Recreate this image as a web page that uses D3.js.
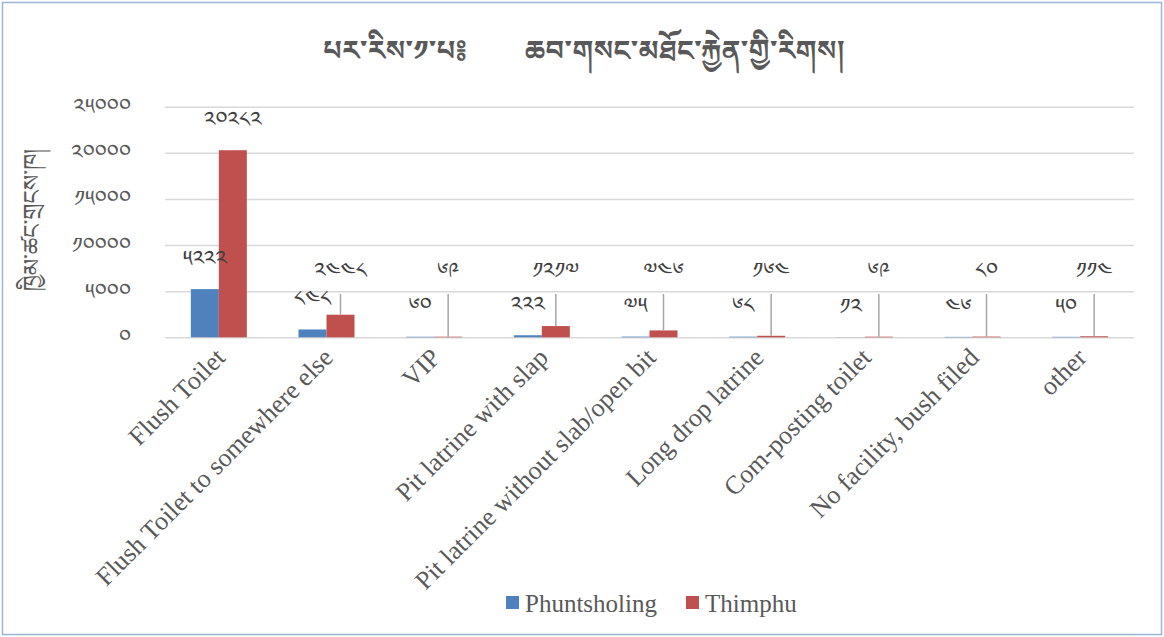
<!DOCTYPE html>
<html>
<head>
<meta charset="utf-8">
<script src="https://cdn.jsdelivr.net/npm/d3@7"></script>
<style>
  html, body { margin: 0; padding: 0; background: #ffffff; }
  svg { display: block; }
</style>
</head>
<body>
<svg id="chart" width="1164" height="637"></svg>
<script>
// ---- data ----
const categories = [
  "Flush Toilet",
  "Flush Toilet to somewhere else",
  "VIP",
  "Pit latrine with slap",
  "Pit latrine without slab/open bit",
  "Long drop latrine",
  "Com-posting toilet",
  "No facility, bush filed",
  "other"
];
const seriesNames = ["Phuntsholing", "Thimphu"];
const phuntsholing = [5222, 848, 60, 222, 75, 68, 12, 46, 50];
const thimphu = [20282, 2448, 69, 1217, 746, 164, 69, 80, 114];
const yTicks = [0, 5000, 10000, 15000, 20000, 25000];
const titleText = "པར་རིས་༡་པ༔        ཆབ་གསང་མཐོང་རྐྱེན་གྱི་རིགས།";
const yTitleText = "ཁྱིམ་ཚང་གྲངས་ཁ།";

// ---- styles ----
const colors = { Phuntsholing: "#4f81bd", Thimphu: "#c0504d" };
const tibFont = "'Noto Sans Tibetan','Noto Serif Tibetan','Microsoft Himalaya','Jomolhari','DejaVu Sans',sans-serif";
const serifFont = "'Liberation Serif','Times New Roman',serif";
const toTib = n => String(n).replace(/[0-9]/g, d => String.fromCharCode(0x0F20 + (+d)));

const svg = d3.select("#chart");
const W = 1164, H = 637;
const plot = { left: 165, right: 1134, top: 106.7, bottom: 337.3 };

// border
svg.append("rect").attr("x", 2.5).attr("y", 2.5).attr("width", W - 5).attr("height", H - 5)
  .attr("fill", "#fff").attr("stroke", "#9bb5d8").attr("stroke-width", 1.5);

// scales
const x0 = d3.scaleBand().domain(categories).range([plot.left, plot.right])
  .paddingInner(0.48).paddingOuter(0.24);
const x1 = d3.scaleBand().domain(seriesNames).range([0, x0.bandwidth()]);
const y = d3.scaleLinear().domain([0, 25000]).range([plot.bottom, plot.top]);

// y axis + gridlines
const yAxis = svg.append("g").attr("transform", `translate(${plot.left},0)`)
  .call(d3.axisLeft(y).tickValues(yTicks).tickSize(-(plot.right - plot.left)).tickPadding(34).tickFormat(toTib));
yAxis.select(".domain").remove();
yAxis.selectAll(".tick line").attr("stroke", "#d9d9d9").attr("stroke-width", 1.5);
yAxis.selectAll(".tick text").attr("fill", "#595959").style("font-family", tibFont).style("font-size", "22px");

// x axis labels
const xAxis = svg.append("g").attr("transform", `translate(0,${plot.bottom})`)
  .call(d3.axisBottom(x0).tickSize(0).tickPadding(0));
xAxis.select(".domain").remove();
xAxis.selectAll(".tick text")
  .attr("text-anchor", "end")
  .attr("transform", "translate(-5,9) rotate(-45)")
  .attr("dy", "0.7em")
  .attr("fill", "#595959")
  .style("font-family", serifFont)
  .style("font-size", "26px");

// bars
const rows = categories.map((c, i) => ({ cat: c, Phuntsholing: phuntsholing[i], Thimphu: thimphu[i] }));
const groups = svg.append("g").selectAll("g").data(rows).join("g")
  .attr("transform", d => `translate(${x0(d.cat)},0)`);
groups.selectAll("rect").data(d => seriesNames.map(k => ({ key: k, value: d[k] }))).join("rect")
  .attr("x", d => x1(d.key))
  .attr("y", d => y(d.value))
  .attr("width", x1.bandwidth())
  .attr("height", d => plot.bottom - y(d.value))
  .attr("fill", d => colors[d.key]);

// data labels
const labelOffset = 31;
const thFloor = y(7300);
const lab = svg.append("g");
rows.forEach(d => {
  const cx = x0(d.cat);
  // Thimphu
  const tx = cx + x1("Thimphu") + x1.bandwidth() / 2;
  const barTop = y(d.Thimphu);
  const ty = Math.min(barTop - labelOffset, thFloor);
  if (barTop - ty > 40) {
    lab.append("line").attr("x1", tx).attr("x2", tx).attr("y1", ty + 24).attr("y2", barTop)
      .attr("stroke", "#a6a6a6").attr("stroke-width", 1.5);
  }
  lab.append("text").attr("x", tx).attr("y", ty).attr("dy", "0.35em").attr("text-anchor", "middle")
    .attr("fill", "#404040").style("font-family", tibFont).style("font-size", "22px").text(toTib(d.Thimphu));
  // Phuntsholing
  const px = cx + x1("Phuntsholing") + x1.bandwidth() / 2;
  const py = y(d.Phuntsholing) - labelOffset;
  lab.append("text").attr("x", px).attr("y", py).attr("dy", "0.35em").attr("text-anchor", "middle")
    .attr("fill", "#404040").style("font-family", tibFont).style("font-size", "22px").text(toTib(d.Phuntsholing));
});

// title
svg.append("text").attr("x", 584).attr("y", 50).attr("dy", "0.35em").attr("text-anchor", "middle")
  .attr("xml:space", "preserve").style("white-space", "pre")
  .attr("fill", "#595959").style("font-family", tibFont).style("font-size", "28px").style("font-weight", "bold")
  .text(titleText);

// y title
svg.append("text").attr("transform", "translate(32,220) rotate(-90)").attr("dy", "0.35em")
  .attr("text-anchor", "middle").attr("fill", "#595959")
  .style("font-family", tibFont).style("font-size", "23px").text(yTitleText);

// legend
const legendX = [506, 686];
const legend = svg.append("g").selectAll("g").data(seriesNames).join("g")
  .attr("transform", (d, i) => `translate(${legendX[i]},596)`);
legend.append("rect").attr("width", 13).attr("height", 13).attr("fill", d => colors[d]);
legend.append("text").attr("x", 19).attr("y", 16).attr("fill", "#595959")
  .style("font-family", serifFont).style("font-size", "25px").text(d => d);
</script>
</body>
</html>
